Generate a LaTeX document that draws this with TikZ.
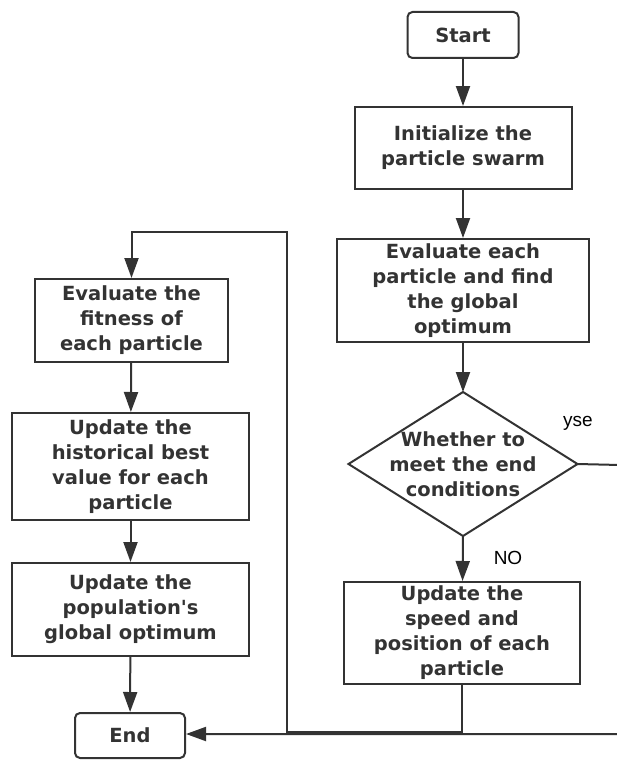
\documentclass[tikz,border=0pt]{standalone}
\usepackage{fontspec}
\setmainfont{DejaVu Sans}
\newfontfamily\lblfont{Liberation Sans}
\usetikzlibrary{shapes.geometric,arrows.meta}
\definecolor{ink}{HTML}{333333}
\tikzset{
  base/.style={draw=ink, line width=2pt, text=ink, align=center, inner sep=0pt,
    font=\fontsize{19.5}{25}\selectfont\bfseries},
  procbox/.style={base, rectangle},
  termbox/.style={base, rectangle, rounded corners=5pt},
  flow/.style={draw=ink, line width=2pt, -{Triangle[length=20pt,width=14pt]}},
  lbl/.style={text=black, font=\lblfont\fontsize{19}{22}\selectfont, inner sep=0pt}
}
\begin{document}
\begin{tikzpicture}[x=1pt,y=-1pt]
\useasboundingbox (0,0) rectangle (617,760);
\node[termbox, minimum width=111pt, minimum height=46pt] (start) at (463,35) {Start};
\node[procbox, minimum width=217pt, minimum height=82pt] (init) at (463,148) {Initialize the\\particle swarm};
\node[procbox, minimum width=252pt, minimum height=103pt] (eval) at (463,290.5) {Evaluate each\\particle and find\\the global\\optimum};
\node[base, draw=none, minimum width=227pt, minimum height=142pt] (decbb) at (463,464) {};
\draw[ink, line width=2pt] (decbb.west) -- (decbb.north) -- (decbb.east) -- (decbb.south) -- cycle;
\node[base, draw=none] (dec) at (463,464) {Whether to\\meet the end\\conditions};
\node[procbox, minimum width=236pt, minimum height=102pt] (upd) at (462,633) {Update the\\speed and\\position of each\\particle};
\node[procbox, minimum width=193pt, minimum height=83pt] (fit) at (131.5,320.5) {Evaluate the\\fitness of\\each particle};
\node[procbox, minimum width=237pt, minimum height=107pt] (hist) at (130.5,466.5) {Update the\\historical best\\value for each\\particle};
\node[procbox, minimum width=237pt, minimum height=93pt] (pop) at (130.5,609.5) {Update the\\population\textquotesingle s\\global optimum};
\node[termbox, minimum width=110pt, minimum height=45pt] (endn) at (130,735.5) {End};
\node[lbl] (yes) at (578,423) {yse};
\node[lbl] (no) at (508,558) {NO};
\coordinate (loopA) at (287,732);
\coordinate (loopB) at (287,232);
\coordinate (yesA) at (620,465);
\draw[flow] (start) -- (init);
\draw[flow] (init) -- (eval);
\draw[flow] (eval) -- (decbb.north);
\draw[flow] (decbb.south) -- (upd);
\draw[flow] (upd.south) |- (loopA) -- (loopB) -| (fit.north);
\draw[flow] (fit) -- (hist);
\draw[flow] (hist) -- (pop);
\draw[flow] (pop) -- (endn);
\draw[flow] (decbb.east) -- (yesA) |- ([yshift=1.5pt]endn.east);
\end{tikzpicture}
\end{document}
